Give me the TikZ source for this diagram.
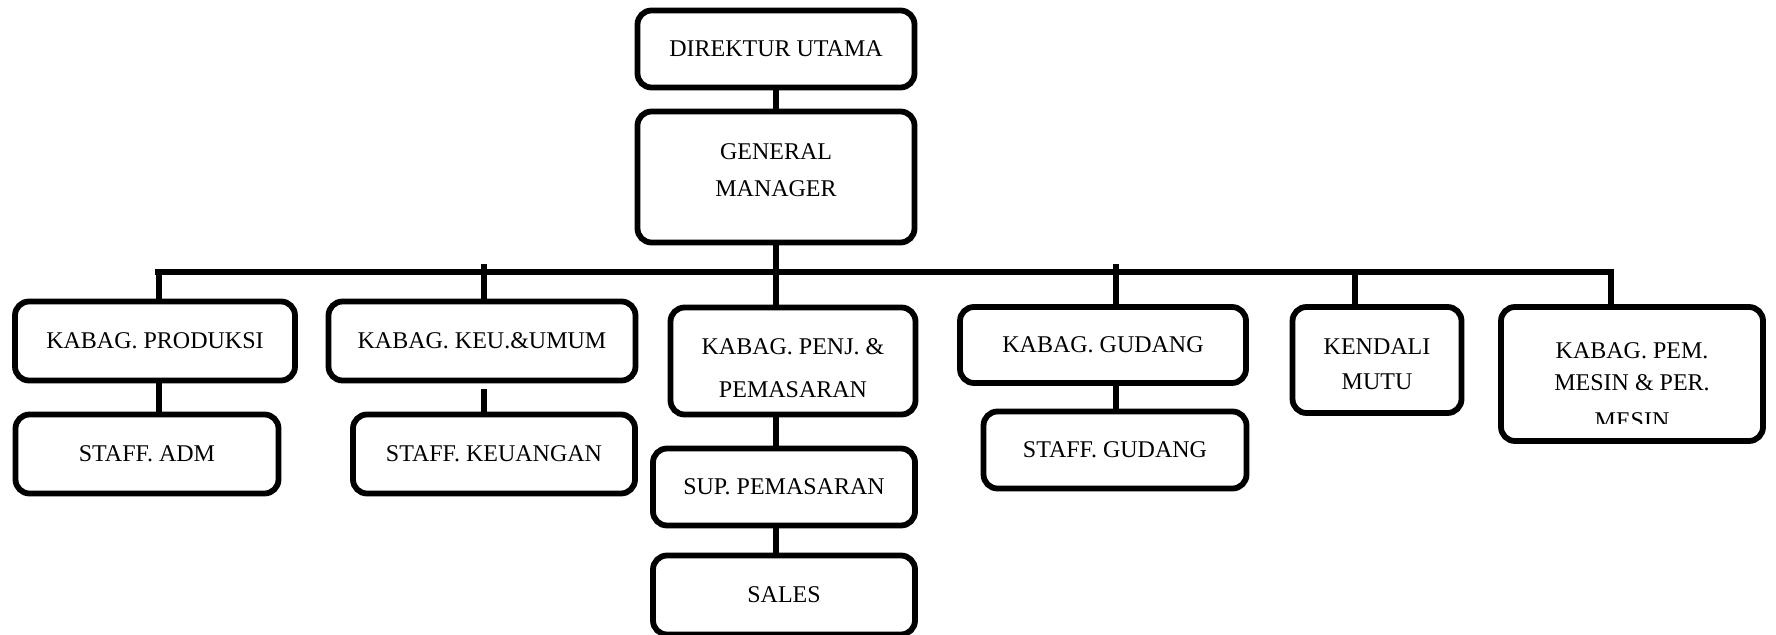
\documentclass[tikz,border=0pt]{standalone}
\usepackage{fontspec}
\setmainfont{Liberation Serif}
\usetikzlibrary{calc}

\begin{document}
\begin{tikzpicture}[x=0.5pt,y=-0.5pt,
  unit/.style={draw, line width=2.9pt, rounded corners=7pt, align=center,
    inner sep=0pt, font=\fontsize{12}{16}\selectfont},
  caption/.style={align=center, inner sep=0pt, font=\fontsize{12}{16}\selectfont},
  link/.style={line width=2.9pt}]
\useasboundingbox (0,0) rectangle (1776,635);
  \coordinate (bl) at (155,272);
\coordinate (d1) at (159,272);
\coordinate (d2) at (484,272);
\coordinate (d3) at (776,272);
\coordinate (d4) at (1116,272);
\coordinate (d5) at (1355,272);
\coordinate (d6) at (1611,272);
% top
\node[unit, minimum width=138.5pt, minimum height=38.5pt] (du) at (776,49) {DIREKTUR UTAMA};
\node[unit, minimum width=138.5pt, minimum height=65.5pt] (gm) at (776,177) {};
\node[caption, yshift=3.5pt] (gmtext) at (gm) {GENERAL\\[2.3pt]MANAGER};
% kabag
\node[unit, minimum width=140pt, minimum height=39.5pt] (kp) at (155,341) {KABAG. PRODUKSI};
\node[unit, minimum width=153.5pt, minimum height=39.5pt] (kk) at (482,341) {KABAG. KEU.\&UMUM};
\node[unit, minimum width=122.5pt, minimum height=53.5pt] (kpp) at (793,361) {};
\node[caption, yshift=-3.5pt] (kpptext) at (kpp) {KABAG. PENJ. \&\\[5.7pt]PEMASARAN};
\node[unit, minimum width=143pt, minimum height=38pt] (kg) at (1103,345) {KABAG. GUDANG};
\node[unit, minimum width=84.5pt, minimum height=53pt] (km) at (1377,360) {};
\node[caption, yshift=-2.2pt] (kmtext) at (km) {KENDALI\\[1.5pt]MUTU};
\node[unit, minimum width=131pt, minimum height=67pt] (kpm) at (1632,374) {};
\begin{scope}
  \clip (1505,310) rectangle (1760,424);
  \node[caption] (kpmtext) at (1632,386) {KABAG. PEM.\\MESIN \& PER.\\[3pt]MESIN};
\end{scope}
% staff
\node[unit, minimum width=131.5pt, minimum height=39.5pt] (sa) at (147,454) {STAFF. ADM};
\node[unit, minimum width=141pt, minimum height=39.5pt] (sk) at (494,454) {STAFF. KEUANGAN};
\node[unit, minimum width=131pt, minimum height=38.5pt] (sp) at (784,487) {SUP. PEMASARAN};
\node[unit, minimum width=131pt, minimum height=39.5pt] (sl) at (784,595) {SALES};
\node[unit, minimum width=131.5pt, minimum height=38.5pt] (sg) at (1115,450) {STAFF. GUDANG};
% lines
\draw[link] (du) -- (gm);
\draw[link] (gm) -- (d3);
\draw[link] (bl) -- (d6) -- (d6 |- kpm.north);
\draw[link] (d1) -- (d1 |- kp.north);
\draw[link] ($(d2)+(0,-8)$) -- (d2 |- kk.north);
\draw[link] (d3) -- (d3 |- kpp.north);
\draw[link] ($(d4)+(0,-8)$) -- (d4 |- kg.north);
\draw[link] (d5) -- (d5 |- km.north);
\draw[link] (d1 |- kp.south) -- (d1 |- sa.north);
\draw[link] ($(d2 |- kk.south)+(0,6)$) -- (d2 |- sk.north);
\draw[link] (d3 |- kpp.south) -- (d3 |- sp.north);
\draw[link] (d3 |- sp.south) -- (d3 |- sl.north);
\draw[link] (d4 |- kg.south) -- (d4 |- sg.north);
\end{tikzpicture}
\end{document}
